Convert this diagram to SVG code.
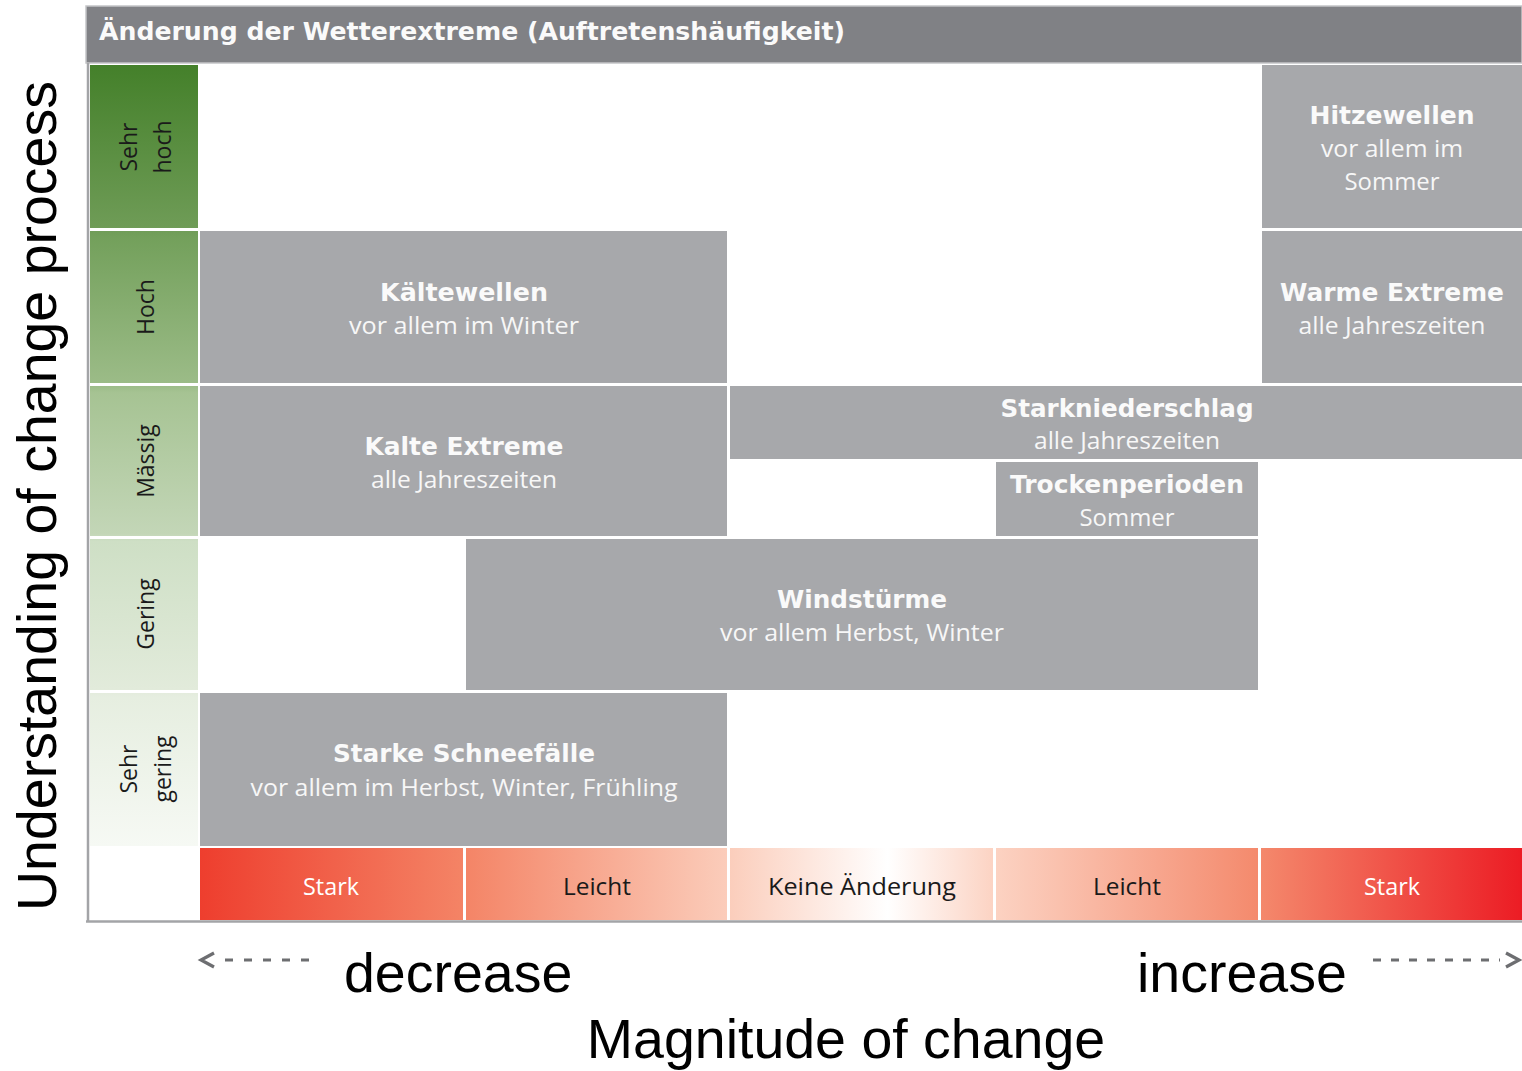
<svg xmlns="http://www.w3.org/2000/svg" width="1522" height="1071" viewBox="0 0 1522 1071">
<defs>
<linearGradient id="green" gradientUnits="userSpaceOnUse" x1="0" y1="65" x2="0" y2="846">
<stop offset="0" stop-color="#44802a"/>
<stop offset="0.21" stop-color="#6f9c57"/>
<stop offset="0.22" stop-color="#73a05b"/>
<stop offset="0.41" stop-color="#9cbc88"/>
<stop offset="0.42" stop-color="#a6c393"/>
<stop offset="0.6" stop-color="#c3d6b7"/>
<stop offset="0.61" stop-color="#cedfc5"/>
<stop offset="0.8" stop-color="#e2ebdb"/>
<stop offset="0.81" stop-color="#e6eee0"/>
<stop offset="1" stop-color="#f6f9f4"/>
</linearGradient>
<linearGradient id="red" gradientUnits="userSpaceOnUse" x1="200" y1="0" x2="1522" y2="0">
<stop offset="0" stop-color="#ee3e2e"/>
<stop offset="0.2" stop-color="#f48466"/>
<stop offset="0.4" stop-color="#fbcdbb"/>
<stop offset="0.52" stop-color="#ffffff"/>
<stop offset="0.6" stop-color="#fcd3c3"/>
<stop offset="0.8" stop-color="#f48a6d"/>
<stop offset="1" stop-color="#ec1c24"/>
</linearGradient>
<style>
.box{fill:#a7a8ab}
.ttl{font-family:"DejaVu Sans",Verdana,sans-serif;font-weight:bold;font-size:25px;fill:#fafafa;text-anchor:middle}
.sub{font-family:"Open Sans","Noto Sans",sans-serif;font-size:24px;fill:#f7f7f7;text-anchor:middle}
.row{font-family:"Open Sans","Noto Sans",sans-serif;font-size:23px;fill:#1a1a1a;text-anchor:middle}
.bar{font-family:"Open Sans","Noto Sans",sans-serif;font-size:24px;text-anchor:middle}
.axis{font-family:"Liberation Sans",Arial,sans-serif;font-size:55.5px;fill:#000}
.dash{stroke:#6d6e71;stroke-width:3.2;fill:none}
</style>
</defs>
<rect width="1522" height="1071" fill="#fff"/>

<g id="header">
<rect x="86" y="6" width="1436" height="57" fill="#808185" stroke="#c4c5c7" stroke-width="1.5"/>
<text x="99" y="40" font-family="DejaVu Sans,Verdana,sans-serif" font-weight="bold" font-size="24" fill="#fafafa" textLength="746" lengthAdjust="spacingAndGlyphs">Änderung der Wetterextreme (Auftretenshäufigkeit)</text>
</g>

<g id="frame">
<line x1="88" y1="63" x2="88" y2="922" stroke="#a3a4a7" stroke-width="2.5"/>
<line x1="86" y1="921.5" x2="1522" y2="921.5" stroke="#a3a4a7" stroke-width="2.5"/>
</g>

<g id="row-sehr-hoch">
<rect x="90" y="65" width="108" height="163" fill="url(#green)"/>
<text class="row" transform="translate(137,147) rotate(-90)">Sehr</text>
<text class="row" transform="translate(171,147) rotate(-90)">hoch</text>
</g>
<g id="row-hoch">
<rect x="90" y="231" width="108" height="152" fill="url(#green)"/>
<text class="row" transform="translate(154,307) rotate(-90)">Hoch</text>
</g>
<g id="row-maessig">
<rect x="90" y="386" width="108" height="150" fill="url(#green)"/>
<text class="row" transform="translate(154,461) rotate(-90)">Mässig</text>
</g>
<g id="row-gering">
<rect x="90" y="539" width="108" height="151" fill="url(#green)"/>
<text class="row" transform="translate(154,614) rotate(-90)">Gering</text>
</g>
<g id="row-sehr-gering">
<rect x="90" y="693" width="108" height="153" fill="url(#green)"/>
<text class="row" transform="translate(137,769) rotate(-90)">Sehr</text>
<text class="row" transform="translate(171,769) rotate(-90)">gering</text>
</g>

<g id="hitzewellen">
<rect class="box" x="1262" y="65" width="260" height="163"/>
<text class="ttl" x="1392" y="124" textLength="165" lengthAdjust="spacingAndGlyphs">Hitzewellen</text>
<text class="sub" x="1392" y="157" textLength="142" lengthAdjust="spacingAndGlyphs">vor allem im</text>
<text class="sub" x="1392" y="190" textLength="95" lengthAdjust="spacingAndGlyphs">Sommer</text>
</g>
<g id="kaeltewellen">
<rect class="box" x="200" y="231" width="527" height="152"/>
<text class="ttl" x="464" y="301" textLength="168" lengthAdjust="spacingAndGlyphs">Kältewellen</text>
<text class="sub" x="464" y="334" textLength="230" lengthAdjust="spacingAndGlyphs">vor allem im Winter</text>
</g>
<g id="warme-extreme">
<rect class="box" x="1262" y="231" width="260" height="152"/>
<text class="ttl" x="1392" y="301" textLength="224" lengthAdjust="spacingAndGlyphs">Warme Extreme</text>
<text class="sub" x="1392" y="334" textLength="187" lengthAdjust="spacingAndGlyphs">alle Jahreszeiten</text>
</g>
<g id="kalte-extreme">
<rect class="box" x="200" y="386" width="527" height="150"/>
<text class="ttl" x="464" y="455" textLength="199" lengthAdjust="spacingAndGlyphs">Kalte Extreme</text>
<text class="sub" x="464" y="488" textLength="186" lengthAdjust="spacingAndGlyphs">alle Jahreszeiten</text>
</g>
<g id="starkniederschlag">
<rect class="box" x="730" y="386" width="792" height="73"/>
<text class="ttl" x="1127" y="417" textLength="253" lengthAdjust="spacingAndGlyphs">Starkniederschlag</text>
<text class="sub" x="1127" y="449" textLength="186" lengthAdjust="spacingAndGlyphs">alle Jahreszeiten</text>
</g>
<g id="trockenperioden">
<rect class="box" x="996" y="462" width="262" height="74"/>
<text class="ttl" x="1127" y="493" textLength="234" lengthAdjust="spacingAndGlyphs">Trockenperioden</text>
<text class="sub" x="1127" y="526" textLength="95" lengthAdjust="spacingAndGlyphs">Sommer</text>
</g>
<g id="windstuerme">
<rect class="box" x="466" y="539" width="792" height="151"/>
<text class="ttl" x="862" y="608" textLength="170" lengthAdjust="spacingAndGlyphs">Windstürme</text>
<text class="sub" x="862" y="641" textLength="284" lengthAdjust="spacingAndGlyphs">vor allem Herbst, Winter</text>
</g>
<g id="starke-schneefaelle">
<rect class="box" x="200" y="693" width="527" height="153"/>
<text class="ttl" x="464" y="762" textLength="262" lengthAdjust="spacingAndGlyphs">Starke Schneefälle</text>
<text class="sub" x="464" y="796" textLength="427" lengthAdjust="spacingAndGlyphs">vor allem im Herbst, Winter, Frühling</text>
</g>

<g id="scale-bar">
<rect x="200" y="848" width="263" height="72" fill="url(#red)"/>
<rect x="466" y="848" width="261" height="72" fill="url(#red)"/>
<rect x="730" y="848" width="263" height="72" fill="url(#red)"/>
<rect x="996" y="848" width="262" height="72" fill="url(#red)"/>
<rect x="1261" y="848" width="261" height="72" fill="url(#red)"/>
<text class="bar" x="331" y="895" fill="#fff" textLength="56" lengthAdjust="spacingAndGlyphs">Stark</text>
<text class="bar" x="597" y="895" fill="#1a1a1a" textLength="68" lengthAdjust="spacingAndGlyphs">Leicht</text>
<text class="bar" x="862" y="895" fill="#1a1a1a" textLength="188" lengthAdjust="spacingAndGlyphs">Keine Änderung</text>
<text class="bar" x="1127" y="895" fill="#1a1a1a" textLength="68" lengthAdjust="spacingAndGlyphs">Leicht</text>
<text class="bar" x="1392" y="895" fill="#fff" textLength="56" lengthAdjust="spacingAndGlyphs">Stark</text>
</g>

<g id="connectors">
<polyline class="dash" points="214,953 201,960 214,967" stroke-width="2"/>
<line class="dash" x1="225" y1="960" x2="312" y2="960" stroke-dasharray="8,11"/>
<line class="dash" x1="1373" y1="960" x2="1500" y2="960" stroke-dasharray="8,10"/>
<polyline class="dash" points="1506,953 1519,960 1506,967" stroke-width="2"/>
</g>

<g id="axis-labels">
<text class="axis" transform="translate(56,496) rotate(-90)" text-anchor="middle">Understanding of change process</text>
<text class="axis" x="344" y="992">decrease</text>
<text class="axis" x="1137" y="992">increase</text>
<text class="axis" x="846" y="1058" text-anchor="middle">Magnitude of change</text>
</g>
</svg>
